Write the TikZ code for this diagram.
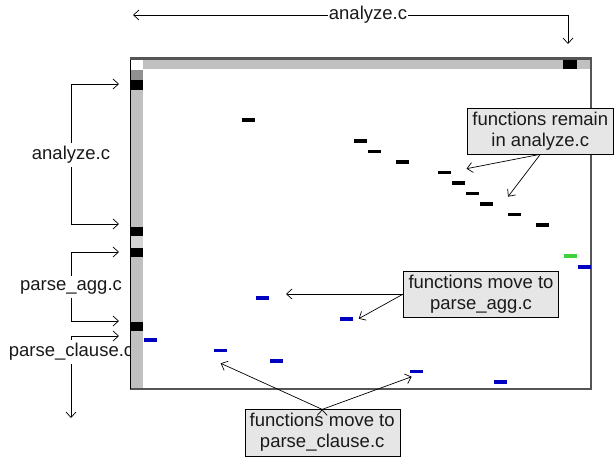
\documentclass[tikz,border=0pt]{standalone}
\usepackage{fontspec}
\setmainfont{Liberation Sans}
\usetikzlibrary{arrows.meta}
\definecolor{txt}{HTML}{1A1A1A}
\definecolor{boxgray}{HTML}{E6E6E6}
\definecolor{colgray}{HTML}{C0C0C0}
\definecolor{palegray}{HTML}{D4D4D4}
\definecolor{midgray}{HTML}{909090}
\definecolor{framegray}{HTML}{555555}
\definecolor{fnblue}{HTML}{0000C0}
\definecolor{fngreen}{HTML}{3CD23C}

\begin{document}
\begin{tikzpicture}[x=1pt,y=-1pt,>={Straight Barb[length=5.5pt,width=10pt]}]
\tikzstyle{lbl}=[font=\fontsize{18.5}{21}\selectfont, text=txt, inner sep=3.5pt]
\tikzstyle{callout}=[lbl, draw=black, fill=boxgray, align=center, inner xsep=5pt, inner ysep=4pt]
\tikzstyle{fnbar}=[rectangle, minimum width=13.5pt, minimum height=3.6pt, inner sep=0pt]
\tikzstyle{conn}=[->, draw=black, line width=0.7pt]
\useasboundingbox[fill=white] (0,0) rectangle (616,457);

\node[lbl, inner xsep=1pt] (topfile) at (368,15) {analyze.c};
\coordinate (topL) at (133,15);
\coordinate (topR) at (568,44);
\node[lbl] (anaL) at (71,155) {analyze.c};
\coordinate (ana1) at (119,84);
\coordinate (ana2) at (119,224);
\node[lbl] (aggL) at (71,287) {parse\_agg.c};
\coordinate (agg1) at (119,252);
\coordinate (agg2) at (119,321);
\node[lbl] (clsL) at (71,352) {parse\_clause.c};
\coordinate (cls1) at (119,336);
\coordinate (cls2) at (71,418);

\fill[colgray] (130,60) rectangle (143.3,389);
\fill[colgray] (143.3,60) rectangle (591,69);
\fill[white] (130,60) rectangle (143.3,70);
\fill[midgray] (130,70) rectangle (143.3,80);
\fill[palegray] (130,236) rectangle (143.3,248);
\foreach \ya/\yb in {80/90,227/236,248/257,322/331}
  \fill[black] (130,\ya) rectangle (143.3,\yb);
\fill[black] (563.3,60) rectangle (577.3,69);
\draw[framegray, line width=1.2pt] (130,389) -- (591,389) -- (591,58.5);
\draw[black, line width=1pt] (130,389) -- (130,58.5);
\draw[framegray, line width=2.5pt] (129.5,58.5) -- (591.5,58.5);

\foreach \c/\r/\col [count=\i] in {8/0/black, 16/2/black, 17/3/black, 19/4/black,
    22/5/black, 23/6/black, 24/7/black, 25/8/black, 27/9/black, 29/10/black,
    31/13/fngreen, 32/14/fnblue, 9/17/fnblue, 15/19/fnblue, 1/21/fnblue,
    6/22/fnblue, 10/23/fnblue, 20/24/fnblue, 26/25/fnblue}
  \node[fnbar, fill=\col] (f\i) at ({136.3+14*\c},{120+10.48*\r}) {};

\node[callout] (remain) at (540.3,131) {functions remain\\in analyze.c};
\coordinate (remA) at (466.5,168.7);
\coordinate (remB) at (508,196.7);
\node[callout] (toagg) at (481,294) {functions move to\\parse\_agg.c};
\coordinate (aggA) at (286,294);
\coordinate (aggB) at (358.7,318.7);
\node[callout] (tocls) at (322.2,432.7) {functions move to\\parse\_clause.c};
\coordinate (clsA) at (220.7,363.3);
\coordinate (clsB) at (411.7,376.7);

\draw[conn] (topfile.west) -- (topL);
\draw[conn] (topfile.east) -| (topR);
\draw[conn] (anaL.north) |- (ana1);
\draw[conn] (anaL.south) |- (ana2);
\draw[conn] (aggL.north) |- (agg1);
\draw[conn] (aggL.south) |- (agg2);
\draw[conn] (clsL.north) |- (cls1);
\draw[conn] (clsL.south) -- (cls2);
\path[conn] (remain.south) edge (remA)
                           edge (remB)
            (toagg.west) edge (aggA)
                         edge (aggB)
            (tocls.north) edge (clsA)
                          edge (clsB);
\end{tikzpicture}
\end{document}
